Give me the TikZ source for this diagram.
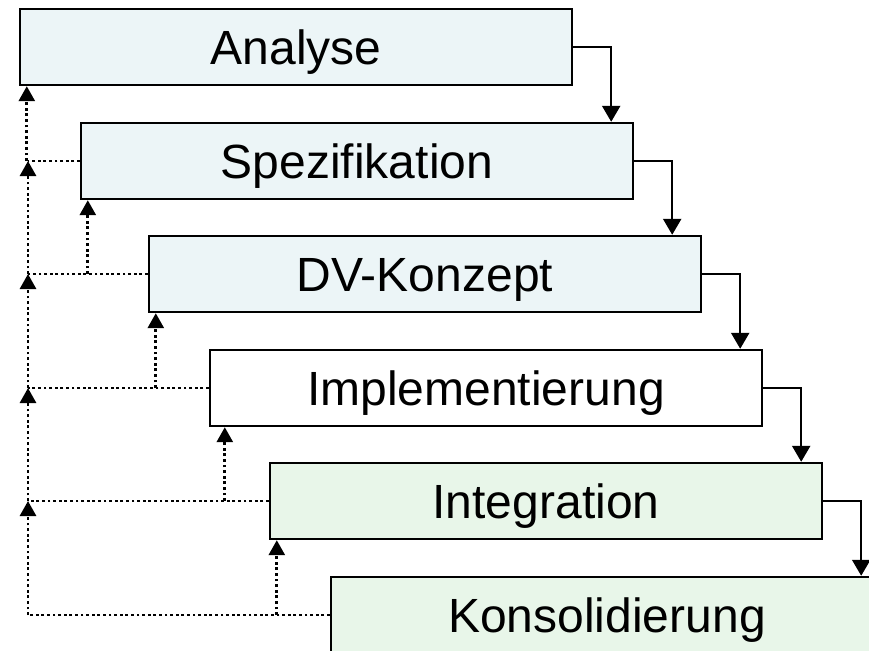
\documentclass[tikz,border=0pt]{standalone}
\usepackage{fontspec}
\setmainfont{Liberation Sans}
\usetikzlibrary{arrows.meta}
\definecolor{phaseblue}{RGB}{236,245,247}
\definecolor{phasegreen}{RGB}{232,246,233}
\begin{document}
\begin{tikzpicture}[x=0.5pt,y=0.5pt,
  stage/.style={draw,line width=1.2pt,minimum width=276pt,minimum height=38pt,inner sep=0pt,
    text height=17.2pt,text depth=0pt,font=\fontsize{24}{28}\selectfont},
  flow/.style={line width=1.2pt,-{Triangle[width=9pt,length=8pt]}},
  back/.style={line width=1.4pt,dash pattern=on 1.4pt off 1.4pt},
  backtip/.style={back,-{Triangle[width=8pt,length=7.5pt]}}]
\useasboundingbox (0,0) rectangle (869,650);
\clip (0,0) rectangle (869,650);
\node[stage,fill=phaseblue] (ana) at (296,603) {Analyse};
\node[stage,fill=phaseblue] (spe) at (357,489) {Spezifikation};
\node[stage,fill=phaseblue] (dvk) at (425,376) {DV-Konzept};
\node[stage,fill=white] (imp) at (486,262) {Implementierung};
\node[stage,fill=phasegreen] (int) at (546,149) {Integration};
\node[stage,fill=phasegreen] (kon) at (607,35) {Konsolidierung};
\coordinate (rail) at (28,0);
\foreach \a/\b in {ana/spe,spe/dvk,dvk/imp,imp/int,int/kon}
  \draw[flow] (\a.east) -- ++(38,0) coordinate (k) -- (k |- \b.north);
\foreach \a/\b/\dx in {spe/ana/4,dvk/spe/4,imp/dvk/4,int/imp/8,kon/int/4}{
  \path ([xshift=\dx pt]\b.south west) coordinate (t);
  \draw[back] (\a.west) -- (\a.west -| rail);
  \draw[backtip] (t |- \a.west) -- (t);
}
\foreach \a/\b in {dvk/spe,imp/dvk,int/imp,kon/int}
  \draw[backtip] (\a.west -| rail) -- (\b.west -| rail);
\end{tikzpicture}
\end{document}
